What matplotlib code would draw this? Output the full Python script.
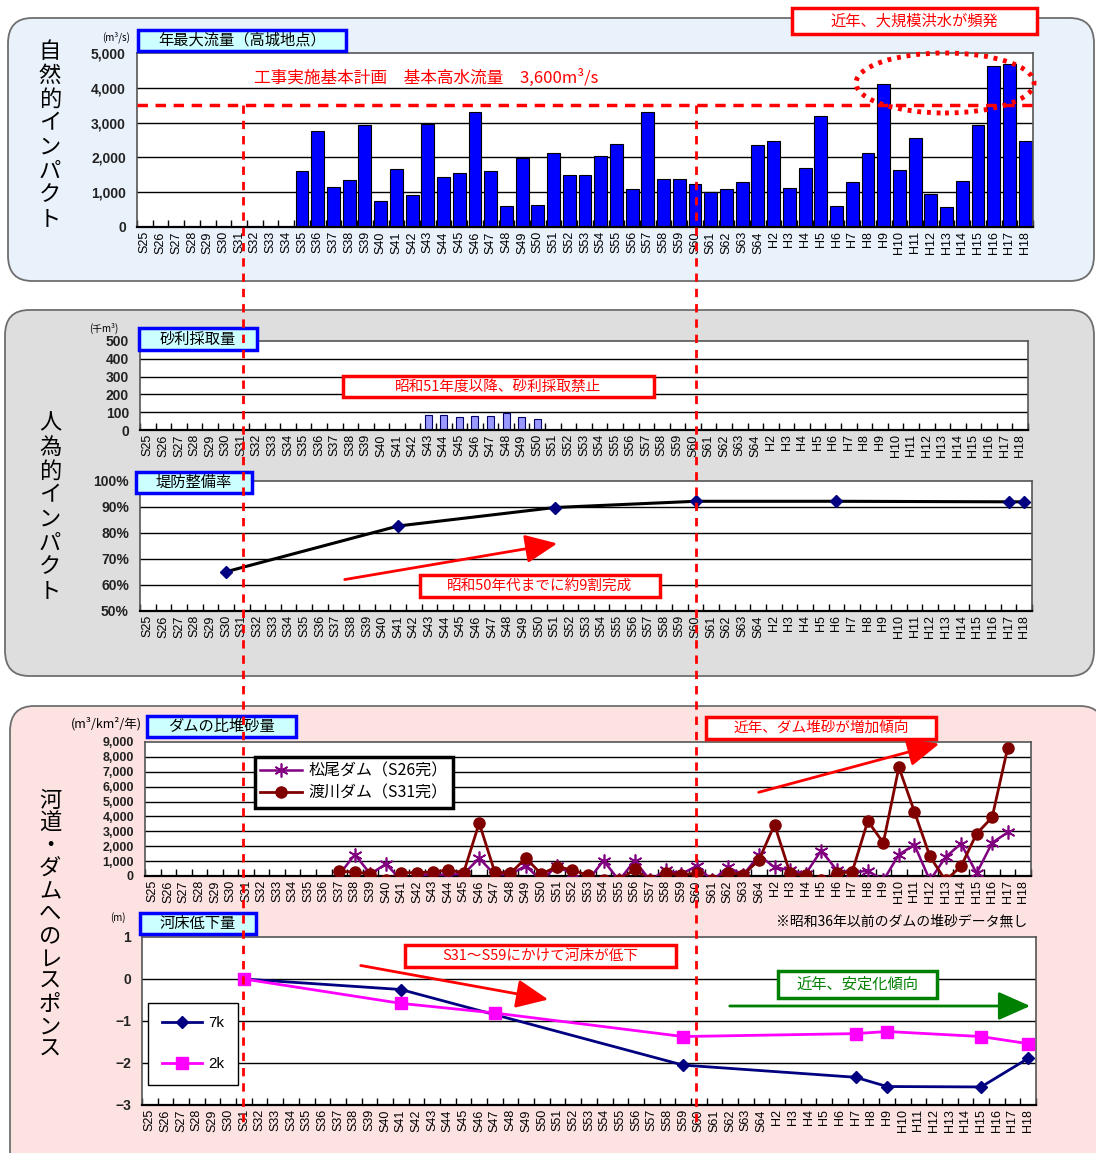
import numpy as np
import matplotlib
matplotlib.use("Agg")
import matplotlib.pyplot as plt
from matplotlib import patches
from matplotlib.lines import Line2D

plt.rcParams['font.family'] = ['Liberation Sans', 'Noto Sans CJK JP', 'DejaVu Sans']
JP = ['Noto Sans CJK JP', 'DejaVu Sans']

# ---- data ----
CATS = ["S25", "S26", "S27", "S28", "S29", "S30", "S31", "S32", "S33", "S34",
        "S35", "S36", "S37", "S38", "S39", "S40", "S41", "S42", "S43", "S44",
        "S45", "S46", "S47", "S48", "S49", "S50", "S51", "S52", "S53", "S54",
        "S55", "S56", "S57", "S58", "S59", "S60", "S61", "S62", "S63", "S64",
        "H2", "H3", "H4", "H5", "H6", "H7", "H8", "H9", "H10", "H11",
        "H12", "H13", "H14", "H15", "H16", "H17", "H18"]

# annual peak discharge at Takajo (m3/s), S35 .. H18
flow_start = "S35"
flow_values = [1620, 2760, 1150, 1350, 2930, 740, 1680, 920, 2960, 1430,
               1550, 3300, 1620, 610, 1980, 620, 2120, 1500, 1500, 2040,
               2390, 1080, 3310, 1390, 1390, 1240, 1010, 1080, 1280, 2360,
               2460, 1110, 1700, 3180, 610, 1280, 2120, 4110, 1650, 2570,
               960, 580, 1310, 2930, 4620, 4680, 2460]
plan_line = 3500

# gravel extraction (thousand m3)
gravel_years = ["S43", "S44", "S45", "S46", "S47", "S48", "S49", "S50"]
gravel_values = [85, 85, 71, 79, 79, 96, 73, 62]

# levee completion rate (%)
levee_years = ["S30", "S41", "S51", "S60", "H6", "H17", "H18"]
levee_values = [65.1, 82.7, 89.8, 92.2, 92.2, 92.0, 92.0]

# specific sediment yield of dams (m3/km2/yr), S37 .. H17
dam_start = "S37"
matsuo = [100, 1440, 135, 810, -300, 90, 90, 90, 135, 1190,
          90, 135, 675, -300, 675, 135, -300, 1035, -300, 1035,
          -300, 400, 135, 675, -300, 585, 90, 1400, 585, 400,
          135, 1710, 400, 225, 360, -300, 1440, 2090, -300, 1260,
          2180, 180, 2230, 2930]
watari = [315, 270, 135, -300, 225, 225, 270, 400, 225, 3560,
          270, 180, 1190, 135, 630, 400, 45, -300, -300, 450,
          -300, 180, 90, 180, -300, 225, 90, 1080, 3450, 180,
          45, -300, 180, 290, 3690, 2230, 7300, 4320, 1310, -300,
          650, 2840, 3940, 8600]

# riverbed change (m)
bed7_years = ["S31", "S41", "S59", "H7", "H9", "H15", "H18"]
bed7_values = [0.0, -0.25, -2.05, -2.34, -2.56, -2.57, -1.89]
bed2_years = ["S31", "S41", "S47", "S59", "H7", "H9", "H15", "H18"]
bed2_values = [0.0, -0.58, -0.81, -1.37, -1.30, -1.25, -1.37, -1.54]

W, H = 1096, 1153
fig = plt.figure(figsize=(W / 100, H / 100), dpi=100)


def fx(x):
    return x / W


def fy(y):
    return 1 - y / H


def idx(labels):
    return [CATS.index(c) for c in labels]


def add_ax(x0, y0, x1, y1):
    return fig.add_axes([x0 / W, 1 - y1 / H, (x1 - x0) / W, (y1 - y0) / H])


def panel(x0, y0, x1, y1, fc):
    p = patches.FancyBboxPatch((fx(x0), fy(y1)), (x1 - x0) / W, (y1 - y0) / H,
                               boxstyle="round,pad=0,rounding_size=0.022",
                               transform=fig.transFigure, fc=fc, ec='#6e6e6e',
                               lw=1.3, zorder=-5)
    fig.add_artist(p)


def tag(x0, y0, x1, y1, text, ec, fc='white', color='black', size=11, lw=2.5):
    r = patches.Rectangle((fx(x0), fy(y1)), (x1 - x0) / W, (y1 - y0) / H,
                          transform=fig.transFigure, fc=fc, ec=ec, lw=lw, zorder=6)
    fig.add_artist(r)
    fig.text(fx((x0 + x1) / 2), fy((y0 + y1) / 2), text, ha='center', va='center',
             fontsize=size, color=color, family=JP, zorder=7)


def arrow(x0, y0, x1, y1, color):
    a = patches.FancyArrowPatch((fx(x0), fy(y0)), (fx(x1), fy(y1)),
                                transform=fig.transFigure,
                                arrowstyle='-|>,head_length=0.9,head_width=0.4',
                                mutation_scale=22, color=color, lw=2, zorder=6)
    fig.add_artist(a)


def vtext(x, y, s, size=16, ls=1.05):
    fig.text(fx(x), fy(y), "\n".join(s), ha='center', va='center', fontsize=size,
             family=JP, linespacing=ls)


def cat_axis(ax, yticks, ylabels, ysize=10):
    n = len(CATS)
    ax.set_xlim(-0.5, n - 0.5)
    ax.set_xticks(range(n))
    ax.set_xticklabels(CATS, rotation=90, fontsize=9)
    ax.tick_params(axis='x', which='major', length=0, pad=3)
    ax.set_xticks(np.arange(n + 1) - 0.5, minor=True)
    ax.tick_params(axis='x', which='minor', direction='in', length=5, width=1)
    ax.set_ylim(yticks[0], yticks[-1])
    ax.set_yticks(yticks)
    ax.set_yticklabels(ylabels, fontsize=ysize, fontweight='bold', color='#222222')
    ax.tick_params(axis='y', length=0, pad=8)
    for y in yticks[1:-1]:
        ax.axhline(y, color='black', lw=1, zorder=0.5)
    for s in ax.spines.values():
        s.set_color('#555555')
        s.set_linewidth(1.2)
    ax.spines['bottom'].set_color('black')
    ax.spines['bottom'].set_linewidth(1.6)
    ax.set_facecolor('white')


# ---- panel backgrounds ----
panel(8, 18, 1094, 281, '#e9f1fb')
panel(5, 310, 1094, 676, '#dedede')
panel(10, 706, 1104, 1175, '#fde2e2')

# ---- 1. annual peak discharge ----
ax1 = add_ax(137, 53, 1033, 227)
cat_axis(ax1, [0, 1000, 2000, 3000, 4000, 5000],
         ["0", "1,000", "2,000", "3,000", "4,000", "5,000"], ysize=10)
s0 = CATS.index(flow_start)
ax1.bar(range(s0, s0 + len(flow_values)), flow_values, width=0.82,
        color='#0000ff', edgecolor='black', lw=0.8, zorder=2)
ax1.axhline(plan_line, color='red', lw=2.5, ls=(0, (3, 2.2)), zorder=3)
fig.text(fx(254), fy(78), "工事実施基本計画　基本高水流量　3,600m³/s",
         ha='left', va='center', fontsize=12, color='red', family=JP)
fig.text(fx(116), fy(37), "(m³/s)", ha='center', va='center', fontsize=7, family=JP)
tag(138, 30, 346, 51, "年最大流量（高城地点）", ec='#0000ff', fc='#ccffff', size=11)
tag(792, 8, 1037, 34, "近年、大規模洪水が頻発", ec='red', color='red', size=11)
ell = patches.Ellipse((fx(945), fy(83)), 178 / W, 60 / H, transform=fig.transFigure,
                      fill=False, ec='red', lw=3.5, ls=(0, (0.8, 1.2)), zorder=6)
fig.add_artist(ell)
vtext(50, 135, "自然的インパクト")

# ---- 2a. gravel extraction ----
ax2 = add_ax(140, 341, 1028, 430)
cat_axis(ax2, [0, 100, 200, 300, 400, 500],
         ["0", "100", "200", "300", "400", "500"], ysize=10)
ax2.bar(idx(gravel_years), gravel_values, width=0.45, color='#9999ff',
        edgecolor='#000066', lw=0.8, zorder=2)
fig.text(fx(104), fy(328), "(千m³)", ha='center', va='center', fontsize=7, family=JP)
tag(139, 328, 257, 350, "砂利採取量", ec='#0000ff', fc='#ccffff', size=11)
tag(343, 376, 654, 397, "昭和51年度以降、砂利採取禁止", ec='red', color='red', size=10.5)

# ---- 2b. levee completion ----
ax3 = add_ax(140, 481, 1032, 611)
cat_axis(ax3, [50, 60, 70, 80, 90, 100],
         ["50%", "60%", "70%", "80%", "90%", "100%"], ysize=10)
ax3.plot(idx(levee_years), levee_values, color='black', lw=2.2, marker='D',
         ms=6, mfc='#000080', mec='#000080', zorder=3)
tag(136, 472, 252, 493, "堤防整備率", ec='#0000ff', fc='#ccffff', size=11)
arrow(342, 580, 560, 543, 'red')
tag(420, 575, 660, 597, "昭和50年代までに約9割完成", ec='red', color='red', size=10.5)
vtext(50, 507, "人為的インパクト")

# ---- 3a. dam sedimentation ----
ax4 = add_ax(145, 742, 1031, 876)
cat_axis(ax4, list(range(0, 10000, 1000)),
         ["0", "1,000", "2,000", "3,000", "4,000", "5,000", "6,000", "7,000",
          "8,000", "9,000"], ysize=9)
d0 = CATS.index(dam_start)
ax4.plot(range(d0, d0 + len(matsuo)), matsuo, color='#800080', lw=1.8,
         marker=(6, 2, 0), ms=10, mew=1.2, mec='#800080', label="松尾ダム（S26完）", zorder=3)
ax4.plot(range(d0, d0 + len(watari)), watari, color='#800000', lw=2,
         marker='o', ms=8, mfc='#800000', mec='#800000', label="渡川ダム（S31完）", zorder=4)
leg4 = ax4.legend(loc='upper left', bbox_to_anchor=(0.124, 0.89), prop={'family': JP, 'size': 11.5},
                  frameon=True, fancybox=False, edgecolor='black', framealpha=1,
                  handlelength=2.6, labelspacing=0.35, borderpad=0.35, handletextpad=0.4,
                  borderaxespad=0)
leg4.get_frame().set_linewidth(2.5)
fig.text(fx(106), fy(724), "(m³/km²/年)", ha='center', va='center', fontsize=9, family=JP)
tag(147, 716, 296, 737, "ダムの比堆砂量", ec='#0000ff', fc='#ccffff', size=11)
tag(706, 717, 936, 739, "近年、ダム堆砂が増加傾向", ec='red', color='red', size=10.5)
arrow(756, 793, 942, 743, 'red')

# ---- 3b. riverbed lowering ----
ax5 = add_ax(142, 937, 1036, 1105)
cat_axis(ax5, [-3, -2, -1, 0, 1], ["−3", "−2", "−1", "0", "1"], ysize=10)
ax5.plot(idx(bed7_years), bed7_values, color='#000080', lw=2, marker='D', ms=6,
         mfc='#000080', mec='#000080', label="7k", zorder=3)
ax5.plot(idx(bed2_years), bed2_values, color='#ff00ff', lw=2, marker='s', ms=9,
         mfc='#ff00ff', mec='#ff00ff', label="2k", zorder=4)
leg5 = ax5.legend(loc='lower left', bbox_to_anchor=(0.007, 0.12), fontsize=11,
                  frameon=True, fancybox=False, edgecolor='black', framealpha=1,
                  handlelength=2.6, labelspacing=1.75, borderpad=0.9, handletextpad=0.4,
                  borderaxespad=0)
fig.text(fx(118), fy(918), "(m)", ha='center', va='center', fontsize=7, family=JP)
fig.text(fx(1027), fy(921), "※昭和36年以前のダムの堆砂データ無し", ha='right', va='center',
         fontsize=10, family=JP)
tag(140, 913, 256, 934, "河床低下量", ec='#0000ff', fc='#ccffff', size=11)
tag(405, 945, 676, 967, "S31～S59にかけて河床が低下", ec='red', color='red', size=10.5)
arrow(358, 965, 551, 1000, 'red')
tag(778, 971, 937, 998, "近年、安定化傾向", ec='#008000', color='#008000', size=11)
arrow(727, 1006, 1033, 1006, '#008000')
vtext(50, 925, "河道・ダムへのレスポンス", size=16, ls=0.98)

# ---- red dashed reference lines (S31, S60) ----
for xp in (243, 696):
    fig.add_artist(Line2D([fx(xp), fx(xp)], [fy(105), fy(1122)], transform=fig.transFigure,
                          color='red', lw=2, ls=(0, (3, 2.5)), zorder=8))

fig.savefig("out.png", dpi=100)
